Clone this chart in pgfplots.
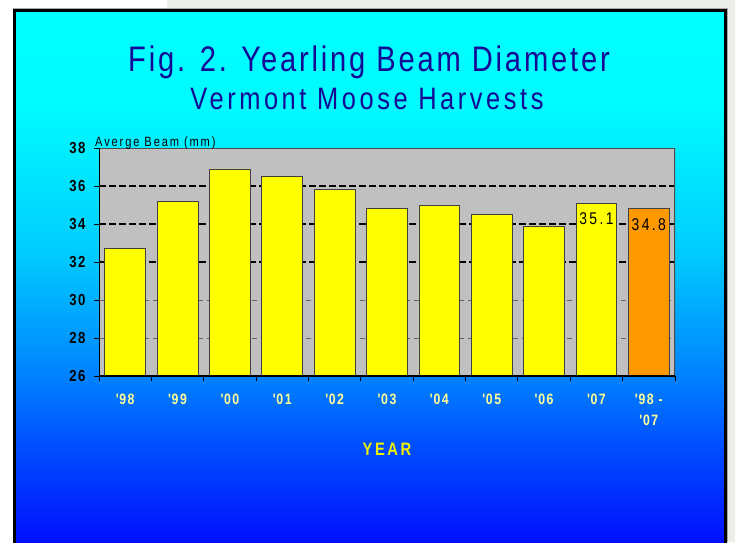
\documentclass[border=0pt]{standalone}
\usepackage{fontspec}
\setmainfont{Liberation Sans}
\newfontfamily\nft{Liberation Sans}[FakeStretch=0.82, LetterSpace=10]
\newfontfamily\nftt{Liberation Sans}[FakeStretch=0.82, LetterSpace=8]
\newfontfamily\nfsub{Liberation Sans}[FakeStretch=0.82, LetterSpace=11.5]
\newfontfamily\nfts{Liberation Sans}[FakeStretch=0.82, LetterSpace=14]
\usepackage{pgfplots}
\pgfplotsset{compat=1.18}
\definecolor{titleblue}{RGB}{20,10,150}
\definecolor{pagegray}{RGB}{235,238,233}
\definecolor{plotgray}{RGB}{192,192,192}
\definecolor{baryellow}{RGB}{255,255,0}
\definecolor{barorange}{RGB}{255,153,0}
\definecolor{ticklabyellow}{RGB}{255,255,150}
\definecolor{yearyellow}{RGB}{240,240,0}
\pgfdeclareverticalshading{slidebg}{100bp}{rgb(0bp)=(0,0.063,1); rgb(25bp)=(0,0.063,1); rgb(33.63bp)=(0,0.294,1); rgb(40.57bp)=(0,0.51,1); rgb(52.39bp)=(0,0.804,1); rgb(65.53bp)=(0,0.98,1); rgb(75bp)=(0,1,1); rgb(100bp)=(0,1,1)}
\newcommand\q{\textquotesingle}
\begin{document}
\begin{tikzpicture}[x=1pt,y=1pt]
\useasboundingbox (0,0) rectangle (735,542);
\fill[white] (0,0) rectangle (735,542);
\fill[pagegray] (167,532) rectangle (735,542);
\fill[pagegray] (727,0) rectangle (735,542);
\shade[shading=slidebg] (14.5,0) rectangle (725.5,531.5);
\draw[gray!70, line width=1pt] (13,533.5) -- (727.5,533.5) -- (727.5,0);
\draw[black, line width=3pt] (14.5,-2) -- (14.5,531.5) -- (725.5,531.5) -- (725.5,-2);

\node[titleblue, anchor=base, inner sep=0, font=\nftt\fontsize{35.5}{40}\selectfont] at (369,470) {Fig. 2. Yearling Beam Diameter};
\node[titleblue, anchor=base, inner sep=0, font=\nfsub\fontsize{31}{34}\selectfont] at (367,432) {Vermont Moose Harvests};

\begin{axis}[
  at={(99pt,166pt)}, anchor=south west,
  scale only axis, width=576pt, height=228pt,
  xmin=-0.5, xmax=10.5, ymin=26, ymax=38,
  ybar, bar width=0.78,
  axis background/.style={fill=plotgray},
  axis line style={draw=none},
  /pgf/number format/assume math mode=true,
  tick pos=left, tick align=outside,
  ytick={26,32,34,36}, extra y ticks={28,30,38},
  ymajorgrids,
  major grid style={black, dash pattern=on 7pt off 3pt, line width=1.7pt},
  extra y tick style={major grid style={gray!80!black, dash pattern=on 5pt off 4pt, line width=0.5pt}},
  major tick length=5pt, minor tick length=5pt,
  ytick style={black, line width=1pt},
  yticklabel style={black, font=\nft\bfseries\fontsize{16}{18}\selectfont, xshift=-5pt},
  xtick={0,...,10},
  xticklabels={\q98,\q99,\q00,\q01,\q02,\q03,\q04,\q05,\q06,\q07,\q98 -\\\q07},
  major x tick style={draw=none},
  minor xtick={-0.5,0.5,1.5,2.5,3.5,4.5,5.5,6.5,7.5,8.5,9.5,10.5},
  minor x tick style={black, line width=1pt},
  xticklabel style={ticklabyellow, align=center, font=\nft\bfseries\fontsize{15}{21}\selectfont, yshift=-9pt},
  xlabel={YEAR},
  xlabel style={yearyellow, font=\nfts\bfseries\fontsize{18}{20}\selectfont, at={(axis description cs:0.5,0)}, anchor=north, inner sep=0, yshift=-67pt},
  clip=true,
]
\addplot[ybar, bar shift=0pt, fill=baryellow, draw=black!75, line width=0.8pt] coordinates {
 (0,32.7) (1,35.2) (2,36.9) (3,36.5) (4,35.8) (5,34.8) (6,35.0) (7,34.5) (8,33.9)};
\addplot[ybar, bar shift=0pt, fill=baryellow, draw=black!75, line width=0.8pt,
  nodes near coords, nodes near coords style={black, anchor=north, yshift=-6pt, font=\nfts\fontsize{17}{18}\selectfont}] coordinates {(9,35.1)};
\addplot[ybar, bar shift=0pt, fill=barorange, draw=black!75, line width=0.8pt,
  nodes near coords, nodes near coords style={black, anchor=north, yshift=-6pt, font=\nfts\fontsize{17}{18}\selectfont}] coordinates {(10,34.8)};
\draw[black!70, line width=1.8pt] (rel axis cs:0,1) -- (rel axis cs:1,1) -- (rel axis cs:1,0);
\draw[black, line width=1.8pt] (rel axis cs:0,1) -- (rel axis cs:0,0) -- (rel axis cs:1,0);
\end{axis}
\node[anchor=base west, inner sep=0, black, font=\nfts\fontsize{13.5}{14}\selectfont] at (95,396) {Averge Beam (mm)};
\end{tikzpicture}
\end{document}
